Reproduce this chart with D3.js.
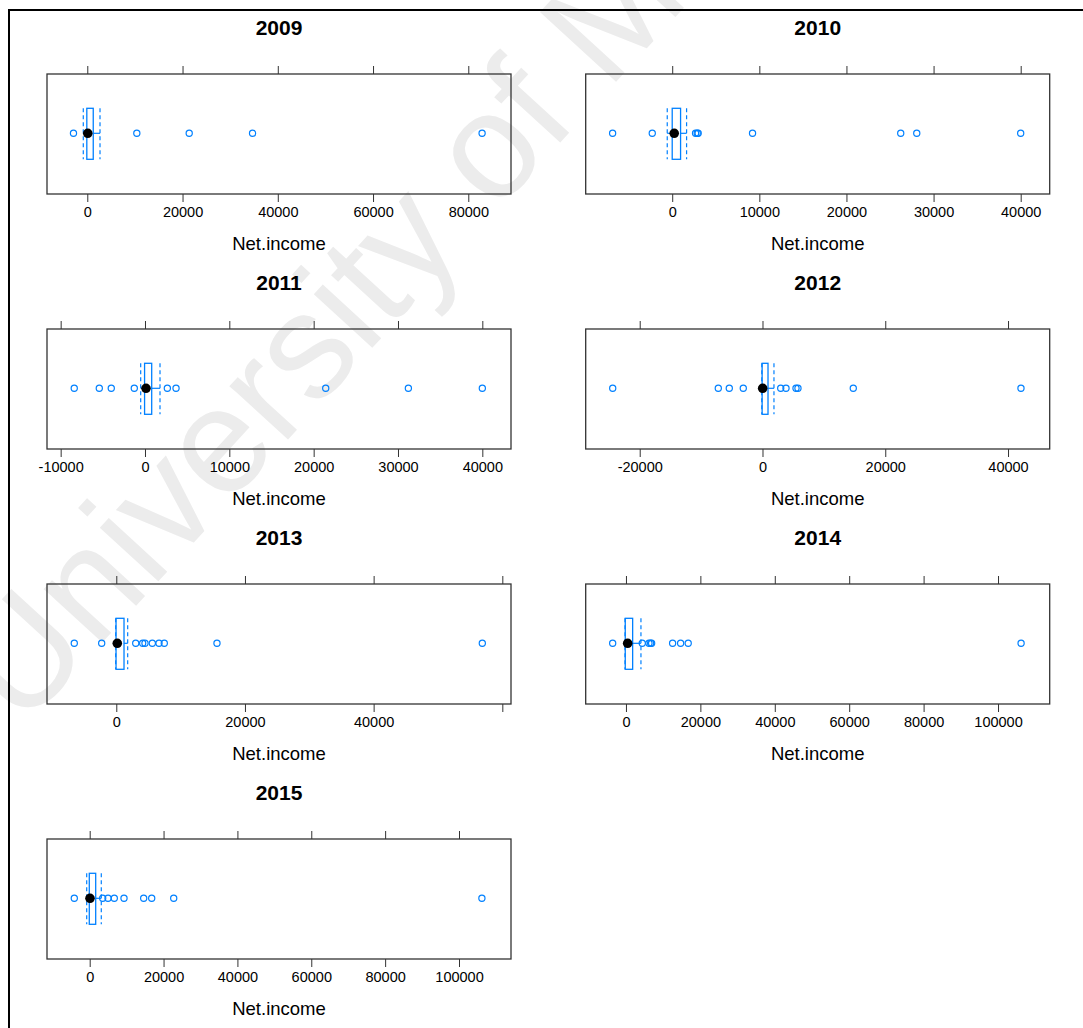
<!DOCTYPE html>
<html>
<head>
<meta charset="utf-8">
<script src="https://cdn.jsdelivr.net/npm/d3@7"></script>
<style>
  body { margin: 0; background: #fff; }
  svg { display: block; font-family: "Liberation Sans", Arial, sans-serif; }
</style>
</head>
<body>
<svg id="chart" width="1083" height="1028"></svg>
<script>
// one panel per year
const years = ["2009", "2010", "2011", "2012", "2013", "2014", "2015"];
const lowWhisker = [-840, -570, -510, -110, -90, -250, -810];
const q1 = [-100, 0, -50, -60, -40, -190, -110];
const medians = [100, 230, 120, 30, 155, 460, 80];
const q3 = [1250, 960, 795, 900, 1200, 1800, 1625];
const highWhisker = [2670, 1650, 1780, 1870, 1770, 4030, 3140];
const outliers = [
  [-2900, 10400, 21400, 34700, 82900],
  [-6840, -2290, 2680, 2870, 2980, 9220, 26230, 28070, 40000],
  [-8390, -5420, -4000, -1270, 2650, 3680, 21430, 31230, 40000],
  [-24400, -7200, -5410, -3130, 2970, 3830, 5460, 5780, 14790, 42110],
  [-6530, -2270, 3020, 4100, 4460, 5600, 6640, 7460, 15650, 56890],
  [-3570, 4380, 6180, 6630, 6900, 12540, 14690, 16730, 106200],
  [-4170, 3520, 4960, 6660, 9290, 14620, 16790, 22750, 106200]
];
const xMin = [-8460, -9930, -11620, -28800, -10770, -10820, -11560];
const xMax = [88970, 43330, 43400, 46790, 61350, 113890, 114080];
const tickValues = [
  [0, 20000, 40000, 60000, 80000],
  [0, 10000, 20000, 30000, 40000],
  [-10000, 0, 10000, 20000, 30000, 40000],
  [-20000, 0, 20000, 40000],
  [0, 20000, 40000, 60000],
  [0, 20000, 40000, 60000, 80000, 100000],
  [0, 20000, 40000, 60000, 80000, 100000]
];
const unlabeledTicks = [[], [], [], [], [60000], [], []];
const xLabel = "Net.income";

const svg = d3.select("#chart");
const blue = "#0080ff", frame = "#333";

// watermark behind everything
svg.append("text")
  .attr("transform", "translate(22,730) rotate(-47.5)")
  .attr("font-size", 150)
  .attr("fill", "#ececec")
  .text("University of M");

// outer frame (left and top only)
svg.append("line").attr("x1", 9).attr("x2", 9).attr("y1", 10).attr("y2", 1028)
  .attr("stroke", "#000").attr("stroke-width", 2);
svg.append("line").attr("x1", 8).attr("x2", 1083).attr("y1", 10).attr("y2", 10)
  .attr("stroke", "#000").attr("stroke-width", 2);

const colLeft = [47, 585.7], panelW = 464, panelH = 120;
const rowTop = [74, 329, 584, 839];

years.forEach(function(year, i) {
  const left = colLeft[i % 2], top = rowTop[Math.floor(i / 2)];
  const g = svg.append("g").attr("transform", "translate(" + left + "," + top + ")");

  const x = d3.scaleLinear().domain([xMin[i], xMax[i]]).range([0, panelW]);
  const yMid = 59.3, boxTop = 34.3, boxBot = 85.3;

  // title
  g.append("text")
    .attr("x", panelW / 2).attr("y", -39)
    .attr("text-anchor", "middle")
    .attr("font-size", 21).attr("font-weight", "bold")
    .text(year);

  // bottom axis with labels (plain hyphen for negatives, like R)
  const bottom = g.append("g")
    .attr("transform", "translate(0," + panelH + ")")
    .call(d3.axisBottom(x).tickValues(tickValues[i]).tickSize(8).tickPadding(5)
      .tickFormat(d => unlabeledTicks[i].includes(d) ? "" : String(d)));
  bottom.select(".domain").remove();
  bottom.selectAll("line").attr("stroke", frame);
  bottom.selectAll("text").attr("font-size", 14.5).attr("fill", "#000")
    .attr("font-family", "Liberation Sans, Arial, sans-serif");

  // top ticks only
  const topAxis = g.append("g")
    .call(d3.axisTop(x).tickValues(tickValues[i]).tickSize(8).tickFormat(""));
  topAxis.select(".domain").remove();
  topAxis.selectAll("line").attr("stroke", frame);

  // panel border
  g.append("rect")
    .attr("width", panelW).attr("height", panelH)
    .attr("fill", "none").attr("stroke", frame).attr("stroke-width", 1.3);

  // x label
  g.append("text")
    .attr("x", panelW / 2).attr("y", panelH + 56)
    .attr("text-anchor", "middle")
    .attr("font-size", 18.5)
    .text(xLabel);

  // whisker stems
  g.append("line")
    .attr("x1", x(lowWhisker[i])).attr("x2", x(q1[i]))
    .attr("y1", yMid).attr("y2", yMid)
    .attr("stroke", blue).attr("stroke-width", 1.2);
  g.append("line")
    .attr("x1", x(q3[i])).attr("x2", x(highWhisker[i]))
    .attr("y1", yMid).attr("y2", yMid)
    .attr("stroke", blue).attr("stroke-width", 1.2);

  // dashed whisker ends
  g.selectAll(".cap")
    .data([lowWhisker[i], highWhisker[i]])
    .enter().append("line")
      .attr("x1", d => x(d)).attr("x2", d => x(d))
      .attr("y1", boxTop).attr("y2", boxBot)
      .attr("stroke", blue).attr("stroke-width", 1.2)
      .attr("stroke-dasharray", "4,3");

  // box
  g.append("rect")
    .attr("x", x(q1[i])).attr("width", x(q3[i]) - x(q1[i]))
    .attr("y", boxTop).attr("height", boxBot - boxTop)
    .attr("fill", "none").attr("stroke", blue).attr("stroke-width", 1.3);

  // outliers
  g.selectAll(".out")
    .data(outliers[i])
    .enter().append("circle")
      .attr("cx", d => x(d)).attr("cy", yMid).attr("r", 3.1)
      .attr("fill", "none").attr("stroke", blue).attr("stroke-width", 1.2);

  // median dot
  g.append("circle")
    .attr("cx", x(medians[i])).attr("cy", yMid).attr("r", 4.8)
    .attr("fill", "#000");
});
</script>
</body>
</html>
